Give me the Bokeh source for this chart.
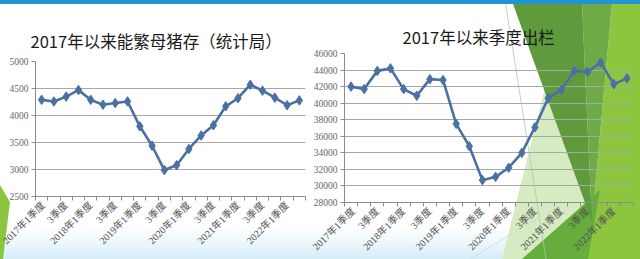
import math
from urllib.parse import quote
from bokeh.plotting import figure
from bokeh.layouts import row, column
from bokeh.models import Range1d, FixedTicker
from bokeh.embed import file_html
from bokeh.resources import INLINE

# ---------------- data ----------------
quarters = ["2017年1季度", "2季度", "3季度", "4季度",
            "2018年1季度", "2季度", "3季度", "4季度",
            "2019年1季度", "2季度", "3季度", "4季度",
            "2020年1季度", "2季度", "3季度", "4季度",
            "2021年1季度", "2季度", "3季度", "4季度",
            "2022年1季度", "2季度"]
sows = [4290, 4260, 4350, 4470, 4290, 4200, 4230, 4260, 3800, 3440, 2990,
        3080, 3380, 3630, 3820, 4170, 4320, 4570, 4460, 4330, 4190, 4280]
slaughter = [42000, 41700, 43900, 44200, 41700, 40900, 42900, 42800, 37500,
             34800, 30700, 31100, 32200, 34000, 37100, 40600, 41600, 43900,
             43800, 44900, 42300, 43000]
sow_ticks = [2500, 3000, 3500, 4000, 4500, 5000]
slaughter_ticks = [28000, 30000, 32000, 34000, 36000, 38000, 40000, 42000,
                   44000, 46000]
title_left = "2017年以来能繁母猪存（统计局）"
title_right = "2017年以来季度出栏"

LINE = "#4a70a4"
GRID = "#a8a8a8"
AXIS = "#8c8c8c"
NUM_FONT = "Liberation Serif, Noto Sans CJK SC"
CJK = "Noto Sans CJK SC"

xs = list(range(len(quarters)))
label_pos = list(range(0, len(quarters), 2))
overrides = {i: quarters[i] for i in label_pos}
boundaries = [i - 0.5 for i in range(len(quarters) + 1)]


def chart(width, values, ticks, bl, br, bt, bb, title, t_off, t_stand):
    p = figure(width=width, height=259,
               x_range=Range1d(-0.5, len(quarters) - 0.5),
               y_range=Range1d(ticks[0], ticks[-1]),
               output_backend="svg", toolbar_location=None,
               min_border_left=bl, min_border_right=br,
               min_border_top=bt, min_border_bottom=bb,
               background_fill_color=None, border_fill_color=None,
               outline_line_color=None)
    p.title.text = title
    p.title.align = "left"
    p.title.offset = t_off
    p.title.standoff = t_stand
    p.title.text_font = CJK
    p.title.text_font_style = "normal"
    p.title.text_font_size = "16.5px"
    p.title.text_color = "#1a1a1a"
    xa = p.xaxis[0]
    xa.ticker = FixedTicker(ticks=label_pos, minor_ticks=boundaries)
    xa.major_label_overrides = overrides
    xa.major_label_orientation = math.pi / 4
    xa.major_tick_line_color = None
    xa.major_tick_out = 0
    xa.major_tick_in = 0
    xa.minor_tick_out = 4
    xa.minor_tick_in = 0
    xa.minor_tick_line_color = AXIS
    xa.axis_line_color = AXIS
    xa.major_label_standoff = 3
    xa.major_label_text_font = NUM_FONT
    xa.major_label_text_font_size = "10px"
    xa.major_label_text_color = "#505050"
    ya = p.yaxis[0]
    ya.ticker = FixedTicker(ticks=ticks)
    ya.minor_tick_line_color = None
    ya.major_tick_out = 4
    ya.major_tick_in = 0
    ya.major_tick_line_color = AXIS
    ya.axis_line_color = AXIS
    ya.major_label_standoff = 3
    ya.major_label_text_font = NUM_FONT
    ya.major_label_text_font_size = "9.5px"
    ya.major_label_text_color = "#666666"
    p.xgrid.grid_line_color = None
    p.ygrid.grid_line_color = GRID
    p.ygrid.grid_line_width = 1.2
    p.ygrid.ticker = FixedTicker(ticks=ticks)
    p.line(xs, values, line_color=LINE, line_width=2.6)
    p.scatter(xs, values, marker="diamond", size=9.5,
              fill_color=LINE, line_color=LINE)
    return p


# left chart: frame x 35..305, y 61..196
p1 = chart(310, sows, sow_ticks, 35, 5, 61, 63, title_left, -5, 18)
# right chart: frame x 342..633, y 53..203
p2 = chart(330, slaughter, slaughter_ticks, 32, 7, 53, 56, title_right, 58, 10)

# ---------------- slide background decoration (CSS) ----------------
shapes = [
    ("rect", "x='0' y='226' width='640' height='33' fill='url(#g)'"),
    ("polygon", "points='0,185 10,202 3,259 0,259' fill='#8cc63f'"),
    ("polygon", "points='545,88 502,259 595,259 592,222 558,129' fill='#d6ebc1'"),
    ("polygon", "points='612,4 640,4 640,259 585,259 592,222' fill='#8cc63f'"),
    ("polygon", "points='522,259 600,190 588,259' fill='#66ad3e'"),
    ("polygon", "points='582,4 612,4 592,222' fill='#6eaa45'"),
    ("polygon", "points='513,4 582,4 592,222' fill='#5f9b3d'"),
    ("line", "x1='505' y1='0' x2='546' y2='259' stroke='#b8c0b8' stroke-width='0.8'"),
    ("line", "x1='470' y1='259' x2='562' y2='204' stroke='#d0d8d0' stroke-width='0.8'"),
    ("rect", "x='0' y='0' width='640' height='4' fill='#1f96d3'"),
]
svg = ("<svg xmlns='http://www.w3.org/2000/svg' width='640' height='259'>"
       "<defs><linearGradient id='g' x1='0' y1='0' x2='0' y2='1'>"
       "<stop offset='0' stop-color='#e2f2fa' stop-opacity='0'/>"
       "<stop offset='1' stop-color='#d4ecf8' stop-opacity='1'/>"
       "</linearGradient></defs>"
       "<rect width='640' height='259' fill='white'/>"
       + "".join(f"<{t} {a}/>" for t, a in shapes) + "</svg>")

layout = row(column(p1), column(p2), styles={
    "background-image": f"url(\"data:image/svg+xml,{quote(svg)}\")",
    "background-repeat": "no-repeat",
    "background-color": "white",
})
open("out.html", "w").write(file_html(layout, INLINE))
